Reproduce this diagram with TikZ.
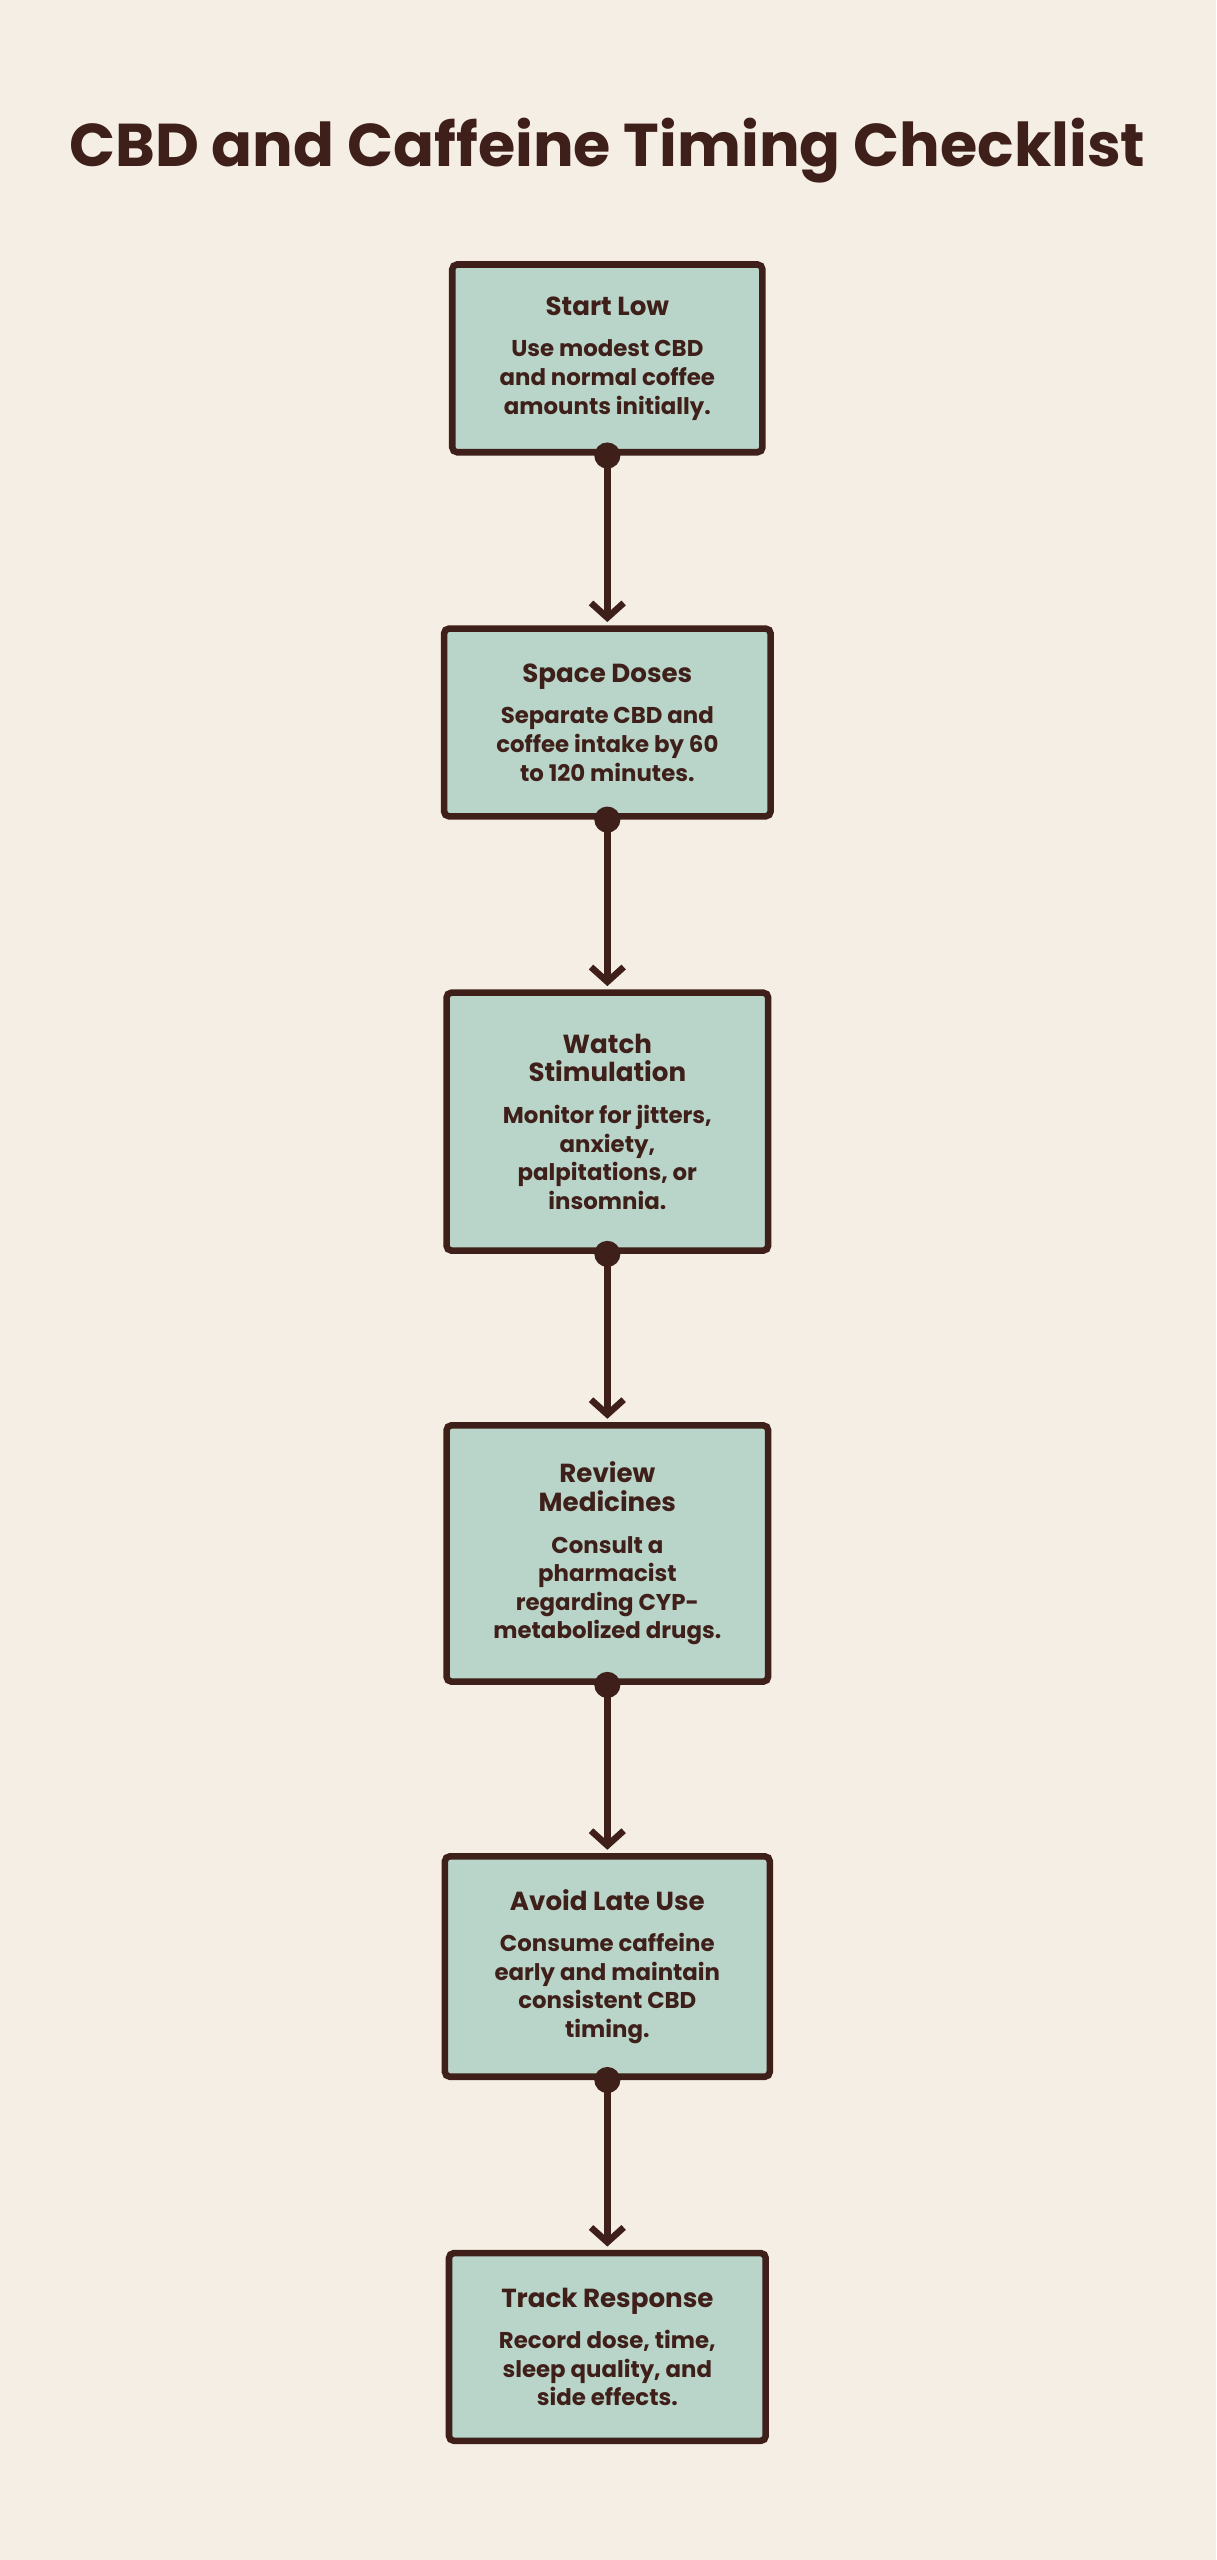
\documentclass[tikz,border=0pt]{standalone}
\usepackage{fontspec}
\setmainfont{Poppins}
\usetikzlibrary{positioning, arrows.meta}
\definecolor{bgc}{HTML}{F5EEE4}
\definecolor{ink}{HTML}{3F1F1A}
\definecolor{sage}{HTML}{B9D4C8}
\tikzset{
  step box/.style={draw=ink, line width=4pt, rounded corners=3pt, fill=sage,
    align=center, text=ink, font=\bfseries\fontsize{14}{17.5}\selectfont,
    minimum width=#1, inner sep=4pt},
  flow/.style={draw=ink, line width=4pt, -{Straight Barb[length=9pt,width=20pt]}},
  dot/.style={circle, fill=ink, inner sep=0pt, minimum size=16pt}
}
\begin{document}
\begin{tikzpicture}[x=1pt,y=1pt]
\fill[bgc] (0,0) rectangle (745,-1568);
\useasboundingbox (0,0) rectangle (745,-1568);
\node[text=ink, font=\bfseries\fontsize{37}{40}\selectfont] (title) at (372,-92) {CBD and Caffeine Timing Checklist};
\node[step box=190pt, minimum height=115pt] (s1) at (372,-219.5)
  {\fontsize{16}{19}\selectfont Start Low\\[8pt]Use modest CBD\\and normal coffee\\amounts initially.};
\node[step box=200pt, minimum height=115pt] (s2) at (372,-442.5)
  {\fontsize{16}{19}\selectfont Space Doses\\[8pt]Separate CBD and\\coffee intake by 60\\to 120 minutes.};
\node[step box=197pt, minimum height=158pt] (s3) at (372,-687)
  {\fontsize{16}{19}\selectfont Watch\\\fontsize{16}{19}\selectfont Stimulation\\[8pt]Monitor for jitters,\\anxiety,\\palpitations, or\\insomnia.};
\node[step box=197pt, minimum height=157pt] (s4) at (372,-951.5)
  {\fontsize{16}{19}\selectfont Review\\\fontsize{16}{19}\selectfont Medicines\\[8pt]Consult a\\pharmacist\\regarding CYP-\\metabolized drugs.};
\node[step box=199pt, minimum height=135pt] (s5) at (372,-1204.5)
  {\fontsize{16}{19}\selectfont Avoid Late Use\\[8pt]Consume caffeine\\early and maintain\\consistent CBD\\timing.};
\node[step box=194pt, minimum height=115pt] (s6) at (372,-1437.5)
  {\fontsize{16}{19}\selectfont Track Response\\[8pt]Record dose, time,\\sleep quality, and\\side effects.};
\foreach \a/\b in {s1/s2, s2/s3, s3/s4, s4/s5, s5/s6} {
  \node[dot] at (\a.south) {};
  \draw[flow] (\a.south) -- ([yshift=2pt]\b.north);
}
\end{tikzpicture}
\end{document}
